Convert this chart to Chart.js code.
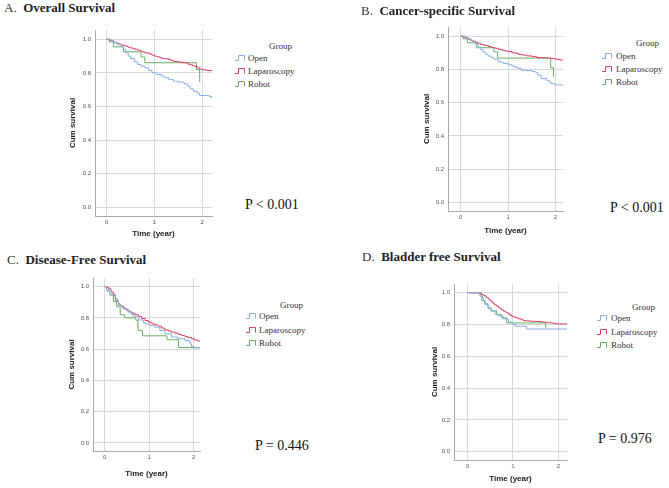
<!DOCTYPE html>
<html>
<head>
<meta charset="utf-8">
<script src="https://cdn.jsdelivr.net/npm/chart.js@4.4.1/dist/chart.umd.min.js"></script>
<style>
  body { margin: 0; background: #fff; }
  #page { position: relative; width: 669px; height: 488px; overflow: hidden; font-family: 'Liberation Serif', 'Times New Roman', serif; color: #222; }
  .box { position: absolute; }
  .txt { position: absolute; white-space: nowrap; }
  .ttl { font-size: 13px; line-height: 16px; color: #333; }
  .ttl b { color: #222; }
  .leg { font-size: 9px; line-height: 12px; color: #333; }
  .pval { font-size: 14px; line-height: 18px; color: #111; }
</style>
</head>
<body>
<div id="page"></div>
<script>
// ========== DATA ==========
const GROUPS = ['Open', 'Laparoscopy', 'Robot'];
const X_TICKS = [0, 1, 2];
const Y_TICKS = [0, 0.2, 0.4, 0.6, 0.8, 1.0];
const TITLES = [['A.', 'Overall Survival'], ['B.', 'Cancer-specific Survival'], ['C.', 'Disease-Free Survival'], ['D.', 'Bladder free Survival']];
const P_VALUES = ['P < 0.001', 'P < 0.001', 'P = 0.446', 'P = 0.976'];

// A. Overall survival  [time (year), cum survival]
const A_open = [[0,1],[0.08,0.99],[0.15,0.98],[0.22,0.97],[0.3,0.955],[0.35,0.94],[0.4,0.92],[0.45,0.9],[0.5,0.885],[0.58,0.865],[0.65,0.85],[0.72,0.84],[0.8,0.83],[0.88,0.815],[0.95,0.8],[1.05,0.79],[1.15,0.78],[1.22,0.77],[1.3,0.76],[1.4,0.75],[1.5,0.745],[1.62,0.735],[1.7,0.72],[1.75,0.705],[1.82,0.69],[1.9,0.68],[1.95,0.665],[2.15,0.66],[2.2,0.65]];
const A_lap = [[0,1],[0.05,0.995],[0.1,0.99],[0.15,0.982],[0.2,0.976],[0.25,0.972],[0.3,0.966],[0.35,0.962],[0.4,0.958],[0.45,0.952],[0.5,0.948],[0.55,0.944],[0.6,0.94],[0.65,0.935],[0.7,0.93],[0.75,0.924],[0.8,0.918],[0.9,0.912],[0.95,0.906],[1.0,0.9],[1.05,0.896],[1.1,0.892],[1.15,0.886],[1.2,0.884],[1.3,0.88],[1.35,0.874],[1.4,0.868],[1.5,0.864],[1.6,0.86],[1.7,0.852],[1.75,0.848],[1.8,0.842],[1.85,0.838],[1.9,0.83],[1.95,0.822],[2.0,0.818],[2.1,0.814],[2.2,0.81]];
const A_robot = [[0,1],[0.05,0.985],[0.14,0.955],[0.35,0.925],[0.72,0.895],[0.8,0.86],[1.88,0.82],[1.95,0.745]];

// B. Cancer-specific survival
const B_open = [[0,1],[0.1,0.99],[0.15,0.984],[0.22,0.975],[0.26,0.964],[0.32,0.95],[0.37,0.934],[0.42,0.92],[0.47,0.904],[0.53,0.89],[0.58,0.88],[0.65,0.87],[0.7,0.862],[0.79,0.848],[0.85,0.842],[0.9,0.836],[1.0,0.828],[1.08,0.82],[1.15,0.812],[1.22,0.805],[1.28,0.794],[1.5,0.788],[1.58,0.782],[1.63,0.765],[1.7,0.745],[1.81,0.734],[1.88,0.72],[1.92,0.714],[1.99,0.706],[2.2,0.706]];
const B_lap = [[0,1],[0.05,0.995],[0.1,0.99],[0.15,0.982],[0.2,0.975],[0.25,0.97],[0.3,0.964],[0.35,0.958],[0.42,0.95],[0.5,0.943],[0.58,0.938],[0.65,0.932],[0.72,0.927],[0.8,0.92],[0.88,0.915],[0.95,0.91],[1.0,0.907],[1.08,0.9],[1.15,0.897],[1.22,0.89],[1.3,0.886],[1.4,0.881],[1.5,0.877],[1.6,0.872],[1.7,0.87],[1.8,0.868],[1.9,0.866],[1.98,0.862],[2.05,0.86],[2.1,0.857],[2.2,0.855]];
const B_robot = [[0,1],[0.05,0.984],[0.14,0.96],[0.33,0.93],[0.7,0.905],[0.78,0.868],[1.9,0.81],[1.96,0.755]];

// C. Disease-free survival
const C_open = [[0,1],[0.05,0.985],[0.09,0.974],[0.16,0.953],[0.24,0.91],[0.31,0.879],[0.42,0.857],[0.53,0.836],[0.6,0.822],[0.65,0.81],[0.76,0.787],[0.87,0.768],[0.92,0.76],[1.02,0.751],[1.13,0.74],[1.24,0.719],[1.35,0.698],[1.5,0.677],[1.65,0.666],[1.8,0.655],[1.91,0.634],[1.95,0.617],[2.0,0.608],[2.14,0.606]];
const C_lap = [[0,1],[0.04,0.995],[0.09,0.989],[0.13,0.978],[0.16,0.964],[0.2,0.945],[0.24,0.921],[0.28,0.905],[0.31,0.889],[0.35,0.878],[0.39,0.868],[0.45,0.857],[0.5,0.847],[0.55,0.838],[0.61,0.83],[0.68,0.82],[0.76,0.809],[0.83,0.796],[0.91,0.783],[0.98,0.772],[1.06,0.762],[1.13,0.755],[1.2,0.747],[1.28,0.735],[1.35,0.723],[1.43,0.716],[1.5,0.709],[1.58,0.702],[1.65,0.694],[1.72,0.688],[1.8,0.681],[1.87,0.674],[1.95,0.666],[2.02,0.658],[2.1,0.651],[2.14,0.648]];
const C_robot = [[0,1],[0.05,0.972],[0.12,0.945],[0.2,0.905],[0.27,0.87],[0.35,0.82],[0.45,0.8],[0.7,0.785],[0.75,0.72],[0.85,0.685],[1.4,0.66],[1.66,0.61],[2.14,0.61]];

// D. Bladder free survival
const D_open = [[0,1],[0.27,0.98],[0.31,0.95],[0.38,0.925],[0.45,0.9],[0.52,0.885],[0.6,0.865],[0.68,0.855],[0.78,0.835],[0.9,0.815],[1.0,0.8],[1.05,0.79],[1.3,0.772],[2.2,0.772]];
const D_lap = [[0,1],[0.2,0.998],[0.27,0.994],[0.31,0.988],[0.35,0.983],[0.39,0.975],[0.42,0.968],[0.46,0.96],[0.49,0.952],[0.53,0.94],[0.57,0.93],[0.6,0.923],[0.64,0.916],[0.68,0.908],[0.71,0.9],[0.75,0.892],[0.79,0.884],[0.83,0.879],[0.86,0.874],[0.9,0.866],[0.93,0.859],[0.97,0.853],[1.0,0.848],[1.06,0.842],[1.12,0.836],[1.18,0.83],[1.23,0.825],[1.3,0.823],[1.37,0.821],[1.45,0.82],[1.52,0.819],[1.6,0.817],[1.67,0.815],[1.75,0.812],[1.82,0.81],[1.9,0.806],[1.96,0.804],[2.2,0.802]];
const D_robot = [[0,1],[0.3,0.975],[0.34,0.95],[0.38,0.93],[0.45,0.905],[0.52,0.885],[0.64,0.862],[0.75,0.842],[0.86,0.81],[1.72,0.78]];

// ========== STYLE / LAYOUT ==========
const GROUP_COLORS = ['#86aee6', '#dc3e62', '#68ad63'];
const GRID = '#d9d9d9', AXIS = '#a9a9a9';
const Y_RANGE = [-0.052, 1.055];

// area = chart area [left, top, right, bottom] in page px
const PANELS = [
    { series: [A_open, A_lap, A_robot], area: [95, 30, 212, 216], x: [-0.245, 2.208], yTitleX: 73, xTitleY: 234,
      title: [4, 8], leg: { sym: 235, txt: 248, groupR: 292, groupY: 46, rows: [58, 71, 84] }, p: [245, 205] },
    { series: [B_open, B_lap, B_robot], area: [448, 27, 563, 211], x: [-0.269, 2.16], yTitleX: 427, xTitleY: 231,
      title: [361, 11], leg: { sym: 602, txt: 616, groupR: 659, groupY: 43, rows: [56, 69, 82] }, p: [610, 208] },
    { series: [C_open, C_lap, C_robot], area: [93, 278, 200, 451], x: [-0.26, 2.14], yTitleX: 72, xTitleY: 474,
      title: [7, 260], leg: { sym: 246, txt: 259, groupR: 303, groupY: 305, rows: [316, 330, 343] }, p: [255, 446] },
    { series: [D_open, D_lap, D_robot], area: [454, 284, 567, 460], x: [-0.3, 2.19], yTitleX: 435, xTitleY: 479,
      title: [362, 257], leg: { sym: 597, txt: 611, groupR: 655, groupY: 307, rows: [318, 332, 345] }, p: [598, 439] }
];

const page = document.getElementById('page');

function addText(cls, html, left, cy, lh, alignRight) {
    const el = document.createElement('div');
    el.className = 'txt ' + cls;
    el.innerHTML = html;
    el.style.top = (cy - lh / 2) + 'px';
    if (alignRight) el.style.right = (669 - left) + 'px';
    else el.style.left = left + 'px';
    page.appendChild(el);
    return el;
}

function addSymbol(x, cy, color) {
    const ns = 'http://www.w3.org/2000/svg';
    const svg = document.createElementNS(ns, 'svg');
    svg.setAttribute('width', 11); svg.setAttribute('height', 8);
    svg.style.position = 'absolute';
    svg.style.left = x + 'px'; svg.style.top = (cy - 4) + 'px';
    const path = document.createElementNS(ns, 'path');
    path.setAttribute('d', 'M0 6.5 H3.5 V1.5 H9.5 V6.5');
    path.setAttribute('fill', 'none');
    path.setAttribute('stroke', color);
    path.setAttribute('stroke-width', 1);
    svg.appendChild(path);
    page.appendChild(svg);
}

function makePanel(cfg, idx) {
    const [l, t, r, b] = cfg.area;
    const padL = 40, padT = 10, padR = 8, padB = 34;
    const w = r - l + padL + padR, h = b - t + padT + padB;
    const box = document.createElement('div');
    box.className = 'box';
    box.style.left = (l - padL) + 'px';
    box.style.top = (t - padT) + 'px';
    box.style.width = w + 'px';
    box.style.height = h + 'px';
    const cv = document.createElement('canvas');
    cv.width = w; cv.height = h;
    box.appendChild(cv);
    page.appendChild(box);

    const tickFont = { family: "'Liberation Sans', Arial, sans-serif", size: 6 };
    const titleFont = { family: "'Liberation Sans', Arial, sans-serif", size: 8, weight: 'bold', lineHeight: 1.2 };

    new Chart(cv, {
        type: 'line',
        data: {
            datasets: cfg.series.map((s, i) => ({
                label: GROUPS[i],
                data: s.map(([x, y]) => ({ x, y })),
                borderColor: GROUP_COLORS[i],
                borderWidth: 1,
                stepped: true,
                pointRadius: 0,
                fill: false
            }))
        },
        options: {
            responsive: false,
            animation: false,
            events: [],
            layout: { padding: { left: 0, top: padT, right: padR, bottom: 0 } },
            plugins: { legend: { display: false }, tooltip: { enabled: false } },
            scales: {
                x: {
                    type: 'linear', min: cfg.x[0], max: cfg.x[1],
                    afterBuildTicks: s => { s.ticks = X_TICKS.map(v => ({ value: v })); },
                    afterFit: s => { s.height = padB; },
                    grid: { color: GRID, lineWidth: 1, drawTicks: false },
                    border: { color: AXIS, width: 1 },
                    ticks: { padding: 3, font: tickFont, color: '#555', maxRotation: 0, callback: v => String(v) },
                    title: { display: true, text: 'Time (year)', font: titleFont, color: '#222',
                             padding: { top: 0, bottom: b + padB - 4.8 - cfg.xTitleY } }
                },
                y: {
                    type: 'linear', min: Y_RANGE[0], max: Y_RANGE[1],
                    afterBuildTicks: s => { s.ticks = Y_TICKS.map(v => ({ value: v })); },
                    afterFit: s => { s.width = padL; },
                    grid: { color: GRID, lineWidth: 1, drawTicks: false },
                    border: { color: AXIS, width: 1 },
                    ticks: { padding: 4, font: tickFont, color: '#555', callback: v => v.toFixed(1) },
                    title: { display: true, text: 'Cum survival', font: titleFont, color: '#222',
                             padding: { top: cfg.yTitleX - (l - padL) - 4.8, bottom: 0 } }
                }
            }
        }
    });

    // panel heading, legend and p value
    const [letter, name] = TITLES[idx];
    addText('ttl', letter + '&nbsp; <b>' + name + '</b>', cfg.title[0], cfg.title[1], 16);
    addText('leg', 'Group', cfg.leg.groupR, cfg.leg.groupY, 12, true);
    GROUPS.forEach((g, i) => {
        addSymbol(cfg.leg.sym, cfg.leg.rows[i], GROUP_COLORS[i]);
        addText('leg', g, cfg.leg.txt, cfg.leg.rows[i], 12);
    });
    addText('pval', P_VALUES[idx], cfg.p[0], cfg.p[1], 18);
}

PANELS.forEach(makePanel);
</script>
</body>
</html>
